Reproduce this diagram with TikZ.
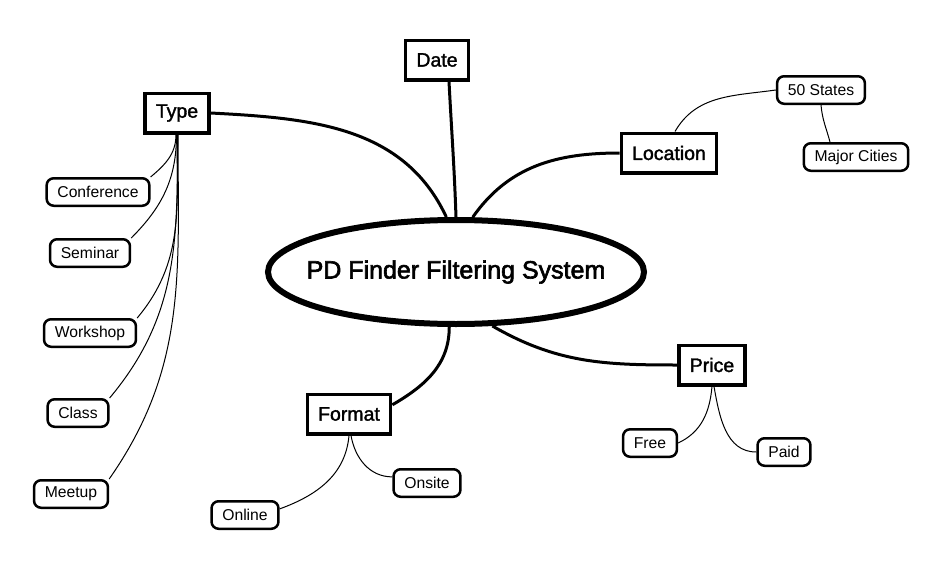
\documentclass[tikz,border=0pt]{standalone}
\usepackage{fontspec}
\setmainfont{Liberation Sans}
\newfontfamily\heavyfont{Liberation Sans}[BoldFont=Liberation Sans, BoldFeatures={FakeBold=1.6}]
\newfontfamily\hubfont{Liberation Sans}[BoldFont=Liberation Sans, BoldFeatures={FakeBold=2.4}]
\usepackage{tikz}
\usetikzlibrary{shapes.geometric}
\tikzstyle{hubnode} = [draw=black, fill=white, line width=6pt, ellipse,
    minimum width=376pt, minimum height=104pt, inner xsep=-25pt, inner ysep=0pt,
    font=\hubfont\bfseries\fontsize{25}{30}\selectfont]
\tikzstyle{topicbox} = [draw=black, fill=white, line width=3.5pt,
    rectangle, inner xsep=10.75pt, inner ysep=0pt, minimum height=39.5pt,
    font=\heavyfont\bfseries\fontsize{19.5}{23}\selectfont]
\tikzstyle{leafbox} = [draw=black, fill=white, line width=2.5pt,
    rectangle, rounded corners=7pt, inner xsep=10.75pt, inner ysep=0pt,
    minimum height=27.5pt, font=\fontsize{15.7}{19}\selectfont]
\tikzstyle{mainlink} = [draw=black, line width=3pt]
\tikzstyle{leaflink} = [draw=black, line width=1pt]
\begin{document}
\begin{tikzpicture}[x=1pt, y=-1pt]
                \useasboundingbox (0,0) rectangle (943,562);
                \node [hubnode] (hub) at (456,272) {PD Finder Filtering System};
                \node [topicbox] (type) at (177,113) {Type};
                \node [topicbox] (date) at (437,60) {Date};
                \node [topicbox] (location) at (669,153) {Location};
                \node [topicbox] (format) at (349,414) {Format};
                \node [topicbox] (price) at (712,365) {Price};
                \node [leafbox] (conference) at (98,192) {Conference};
                \node [leafbox] (seminar) at (90,253) {Seminar};
                \node [leafbox] (workshop) at (90,333) {Workshop};
                \node [leafbox] (class) at (78,413) {Class};
                \node [leafbox] (meetup) at (71,494) {Meetup};
                \node [leafbox] (states) at (821,90) {50 States};
                \node [leafbox] (cities) at (856,157) {Major Cities};
                \node [leafbox] (online) at (245,515) {Online};
                \node [leafbox] (onsite) at (427,483) {Onsite};
                \node [leafbox] (free) at (650,443) {Free};
                \node [leafbox] (paid) at (784,452) {Paid};
                \draw [mainlink] (type.east) to[out=-3,in=115] (hub.100);
                \draw [mainlink] ([xshift=12pt]date.south) to[out=-87,in=92] (hub.north);
                \draw [mainlink] (location.west) to[out=180,in=55] (hub.73);
                \draw [mainlink] (hub.263) to[out=-90,in=30] (format.12);
                \draw [mainlink] (hub.304) to[out=-30,in=180] (price.west);
                \draw [leaflink] ([xshift=-1pt]type.south) to[out=-90,in=40] (conference.north east);
                \draw [leaflink] ([xshift=-0.5pt]type.south) to[out=-90,in=45] (seminar.north east);
                \draw [leaflink] (type.south) to[out=-90,in=50] (workshop.north east);
                \draw [leaflink] ([xshift=0.5pt]type.south) to[out=-90,in=50] (class.north east);
                \draw [leaflink] ([xshift=1pt]type.south) to[out=-90,in=55] (meetup.north east);
                \draw [leaflink] ([xshift=6pt]location.north) to[out=60,in=188] (states.west);
                \draw [leaflink] (states.south) to[out=-85,in=105] ([xshift=-26pt]cities.north);
                \draw [leaflink] (format.south) to[out=-95,in=20] (online.10);
                \draw [leaflink] ([xshift=2pt]format.south) to[out=-80,in=180] (onsite.170);
                \draw [leaflink] (price.south) to[out=-95,in=25] (free.east);
                \draw [leaflink] ([xshift=2pt]price.south) to[out=-80,in=180] (paid.west);
            \end{tikzpicture}
\end{document}
